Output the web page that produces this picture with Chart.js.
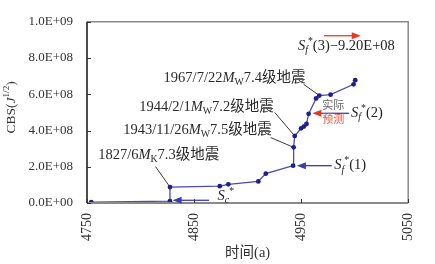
<!DOCTYPE html>
<html>
<head>
<meta charset="utf-8">
<script src="https://cdn.jsdelivr.net/npm/chart.js@4.4.0/dist/chart.umd.min.js"></script>
<style>
  html, body { margin: 0; padding: 0; background: #fff; }
  #wrap { width: 435px; height: 264px; }
</style>
</head>
<body>
<div id="wrap"><canvas id="myChart"></canvas></div>
<script>
// time axis (year + 3000) and cumulative Benioff strain
var years = [4754, 4827.5, 4827.5, 4874, 4882, 4910, 4917, 4942.5, 4943, 4944, 4950, 4952.5, 4955, 4957, 4964, 4967, 4977.5, 4999, 5000.5];
var cbs = [0.05e8, 0.1e8, 0.88e8, 0.93e8, 1.03e8, 1.19e8, 1.62e8, 2.06e8, 3.07e8, 3.7e8, 4.12e8, 4.22e8, 4.36e8, 4.92e8, 5.77e8, 5.93e8, 5.98e8, 6.55e8, 6.78e8];
var xMin = 4750, xMax = 5050, xStep = 100;
var yMin = 0, yMax = 1e9, yStep = 2e8;

// earthquake labels: text anchor, leader start, target point index
var notes = [
  { segs: [["1967/7/22"], ["M", "i"], ["W", "", "sub"], ["7.4级地震"]], x: 4954, y: 6.91e8, lx: 4952.4, ly: 6.55e8, pt: 15 },
  { segs: [["1944/2/1"], ["M", "i"], ["W", "", "sub"], ["7.2级地震"]], x: 4924.4, y: 5.31e8, lx: 4925.3, ly: 5.0e8, pt: 9 },
  { segs: [["1943/11/26"], ["M", "i"], ["W", "", "sub"], ["7.5级地震"]], x: 4922.5, y: 4.02e8, lx: 4921.6, ly: 3.61e8, pt: 8 },
  { segs: [["1827/6"], ["M", "i"], ["K", "", "sub"], ["7.3级地震"]], x: 4873.5, y: 2.63e8, lx: 4814, ly: 2.01e8, pt: 2 }
];

var arrows = [
  { x1: 4864, x2: 4830, y: 0.15e8, color: "#3c3cac", lab: [["S", "i"], ["c", "i", "sub"], ["*", "", "sup"]], lx: 4872, ly: 0.36e8 },
  { x1: 4978.6, x2: 4946, y: 2.06e8, color: "#3c3cac", lab: [["S", "i"], ["f", "i", "sub"], ["*", "", "sup"], ["(1)"]], lx: 4981, ly: 2.06e8 },
  { x1: 4994.8, x2: 4960.5, y: 4.95e8, color: "#3c3cac", head: "#e03a2a", lab: [["S", "i"], ["f", "i", "sub"], ["*", "", "sup"], ["(2)"]], lx: 4996.6, ly: 4.95e8 },
  { x1: 4971.3, x2: 5005.7, y: 9.23e8, color: "#e83a22", lab: [["S", "i"], ["f", "i", "sub"], ["*", "", "sup"], ["(3)\u22129.20E+08"]], lx: 4947, ly: 8.66e8 }
];

var FAM = '"Liberation Serif", "Noto Sans CJK SC", serif';

function fmtE(v) {
  if (v === 0) return "0.0E+00";
  var e = Math.floor(Math.log10(v) + 1e-9);
  var m = v / Math.pow(10, e);
  return m.toFixed(1) + "E+" + (e < 10 ? "0" + e : e);
}

function segFont(s, size) {
  var sz = s[2] ? size * 0.68 : size;
  return (s[1] === "i" ? "italic " : "") + sz + "px " + FAM;
}

function drawRich(ctx, segs, x, y, align, size, color) {
  var w = 0, ws = [];
  segs.forEach(function (s) {
    ctx.font = segFont(s, size);
    var sw = ctx.measureText(s[0]).width;
    ws.push(sw); w += sw;
  });
  var cx = align === "right" ? x - w : align === "center" ? x - w / 2 : x;
  ctx.textAlign = "left";
  ctx.textBaseline = "middle";
  ctx.fillStyle = color;
  segs.forEach(function (s, i) {
    ctx.font = segFont(s, size);
    var dy = s[2] === "sub" ? size * 0.3 : s[2] === "sup" ? -size * 0.35 : 0;
    ctx.fillText(s[0], cx, y + dy);
    cx += ws[i];
  });
}

function arrow(ctx, x1, x2, y, color, headColor) {
  var dir = x2 > x1 ? 1 : -1;
  ctx.strokeStyle = color;
  ctx.lineWidth = 1.3;
  ctx.beginPath();
  ctx.moveTo(x1, y);
  ctx.lineTo(x2 - dir * 6, y);
  ctx.stroke();
  ctx.fillStyle = headColor || color;
  ctx.beginPath();
  ctx.moveTo(x2, y);
  ctx.lineTo(x2 - dir * 9, y - 3.5);
  ctx.lineTo(x2 - dir * 9, y + 3.5);
  ctx.closePath();
  ctx.fill();
}

var extras = {
  id: "extras",
  beforeDatasetsDraw: function (chart) {
    var ctx = chart.ctx, xs = chart.scales.x, ys = chart.scales.y;
    ctx.save();
    // leader lines
    ctx.strokeStyle = "#3a3a3a";
    ctx.lineWidth = 1;
    notes.forEach(function (n) {
      ctx.beginPath();
      ctx.moveTo(xs.getPixelForValue(n.lx), ys.getPixelForValue(n.ly));
      ctx.lineTo(xs.getPixelForValue(years[n.pt]), ys.getPixelForValue(cbs[n.pt]));
      ctx.stroke();
    });
    ctx.restore();
  },
  afterDraw: function (chart) {
    var ctx = chart.ctx, a = chart.chartArea, xs = chart.scales.x, ys = chart.scales.y;
    ctx.save();
    // frame
    ctx.strokeStyle = "#8a8a8a";
    ctx.lineWidth = 1.5;
    ctx.beginPath();
    ctx.moveTo(a.left, a.top); ctx.lineTo(a.right, a.top); ctx.lineTo(a.right, a.bottom);
    ctx.stroke();
    ctx.lineWidth = 2;
    ctx.beginPath();
    ctx.moveTo(a.left, a.bottom); ctx.lineTo(a.right, a.bottom);
    ctx.stroke();
    ctx.strokeStyle = "#111";
    ctx.lineWidth = 1.5;
    ctx.beginPath();
    ctx.moveTo(a.left, a.top); ctx.lineTo(a.left, a.bottom);
    ctx.stroke();
    // inward ticks
    ctx.strokeStyle = "#333";
    ctx.lineWidth = 1;
    ys.ticks.forEach(function (t) {
      var py = Math.round(ys.getPixelForValue(t.value)) + 0.5;
      ctx.beginPath(); ctx.moveTo(a.left, py); ctx.lineTo(a.left + 4, py); ctx.stroke();
    });
    xs.ticks.forEach(function (t) {
      var px = Math.round(xs.getPixelForValue(t.value)) + 0.5;
      ctx.beginPath(); ctx.moveTo(px, a.bottom); ctx.lineTo(px, a.bottom - 4); ctx.stroke();
    });
    // earthquake labels
    notes.forEach(function (n) {
      drawRich(ctx, n.segs, xs.getPixelForValue(n.x), ys.getPixelForValue(n.y), "right", 14.5, "#2a2a2a");
    });
    // arrows and their labels
    arrows.forEach(function (r) {
      var py = ys.getPixelForValue(r.y);
      arrow(ctx, xs.getPixelForValue(r.x1), xs.getPixelForValue(r.x2), py, r.color, r.head);
      drawRich(ctx, r.lab, xs.getPixelForValue(r.lx), ys.getPixelForValue(r.ly), "left", 14.5, "#222");
    });
    ctx.font = "11px " + FAM;
    ctx.textAlign = "center";
    ctx.textBaseline = "middle";
    ctx.fillStyle = "#666";
    ctx.fillText("实际", xs.getPixelForValue(4980), ys.getPixelForValue(5.33e8));
    ctx.fillStyle = "#e8503c";
    ctx.fillText("预测", xs.getPixelForValue(4980), ys.getPixelForValue(4.58e8));
    // axis titles
    drawRich(ctx, [["时间(a)"]], (a.left + a.right) / 2, 253, "center", 14.5, "#333");
    ctx.translate(11, (a.top + a.bottom) / 2 - 5);
    ctx.rotate(-Math.PI / 2);
    drawRich(ctx, [["CBS("], ["J", "i"], ["1/2", "", "sup"], [")"]], 0, 0, "center", 13.5, "#333");
    ctx.restore();
  }
};

var points = years.map(function (x, i) { return { x: x, y: cbs[i] }; });

var ctx = document.getElementById("myChart").getContext("2d");
var myChart = new Chart(ctx, {
  type: "line",
  data: {
    datasets: [{
      data: points,
      borderColor: "#4b4bb8",
      borderWidth: 1.3,
      pointRadius: 2.4,
      pointBackgroundColor: "#1e1e8c",
      pointBorderColor: "#1e1e8c",
      pointBorderWidth: 0,
      tension: 0
    }]
  },
  options: {
    responsive: true,
    maintainAspectRatio: false,
    animation: false,
    layout: { padding: { top: 9, right: 16, left: 0, bottom: 0 } },
    plugins: { legend: { display: false }, tooltip: { enabled: false } },
    scales: {
      x: {
        type: "linear",
        min: xMin, max: xMax,
        grid: { display: false, drawTicks: false },
        border: { display: false },
        ticks: {
          stepSize: xStep,
          minRotation: 90, maxRotation: 90,
          padding: 10,
          color: "#333",
          font: { family: FAM, size: 14 },
          callback: function (v) { return String(v); }
        },
        afterFit: function (s) { s.height = 61; }
      },
      y: {
        min: yMin, max: yMax,
        grid: { display: false, drawTicks: false },
        border: { display: false },
        ticks: {
          stepSize: yStep,
          padding: 14,
          color: "#333",
          font: { family: FAM, size: 13 },
          callback: function (v) { return fmtE(v); }
        },
        afterFit: function (s) { s.width = 87; }
      }
    }
  },
  plugins: [extras]
});
</script>
</body>
</html>
